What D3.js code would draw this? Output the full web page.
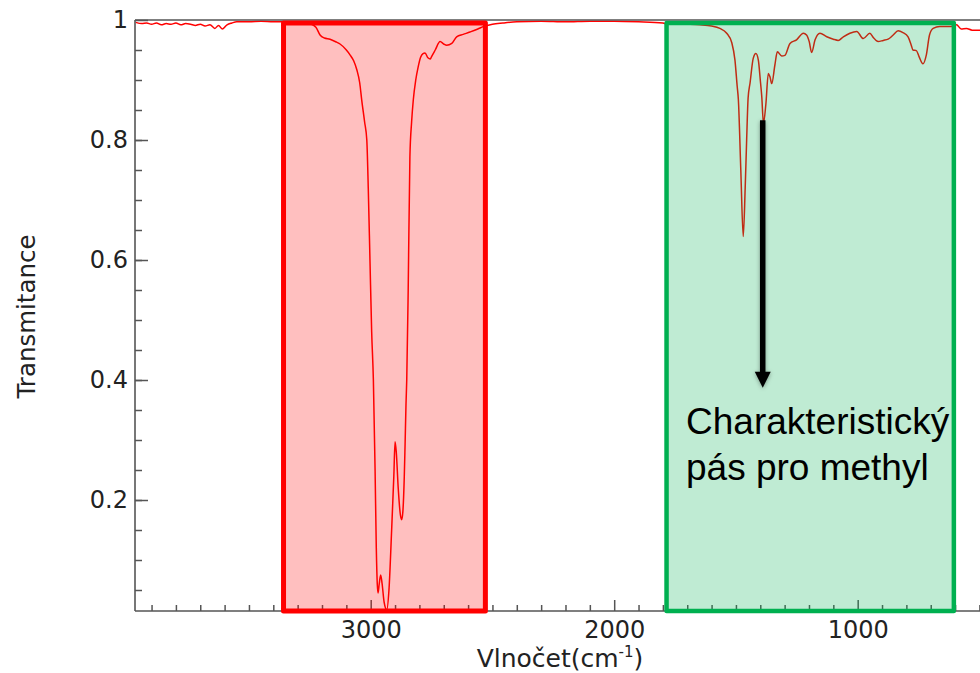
<!DOCTYPE html>
<html>
<head>
<meta charset="utf-8">
<script src="https://cdn.jsdelivr.net/npm/d3@7"></script>
<style>
  html, body { margin: 0; padding: 0; background: #fff; }
  svg { display: block; }
</style>
</head>
<body>
<svg id="chart" width="980" height="673"></svg>
<script>
// IR spectrum: wavenumber (cm^-1) and transmittance
const wavenumber = [
  3965, 3940, 3920, 3900, 3880, 3860, 3840, 3820, 3800, 3780, 3760, 3740, 3720, 3700,
  3680, 3660, 3640, 3625, 3610, 3590, 3570, 3550, 3500, 3450, 3400, 3350, 3300, 3260,
  3249, 3225, 3208, 3190, 3167, 3140, 3126, 3100, 3085, 3070, 3057, 3045, 3037, 3025,
  3016, 3010, 3003, 2996, 2989, 2982, 2977, 2973, 2970, 2965, 2959, 2953, 2945, 2934,
  2925, 2914, 2905, 2900, 2895, 2887, 2878, 2873, 2868, 2862, 2859, 2855, 2852, 2846,
  2839, 2832, 2825, 2815, 2805, 2795, 2785, 2777, 2765, 2755, 2750, 2735, 2715, 2700,
  2688, 2667, 2647, 2620, 2592, 2560, 2538, 2500, 2457, 2400, 2300, 2200, 2100, 2000,
  1900, 1800, 1791, 1700, 1648, 1600, 1566, 1538, 1517, 1504, 1495, 1490, 1480, 1470,
  1462, 1456, 1450, 1442, 1429, 1418, 1408, 1400, 1394, 1387, 1377, 1367, 1360, 1353,
  1340, 1330, 1312, 1299, 1278, 1251, 1223, 1210, 1199, 1189, 1175, 1155, 1127, 1100,
  1080, 1059, 1032, 1004, 977, 950, 936, 916, 895, 875, 854, 834, 814, 793, 780, 773,
  759, 748, 732, 718, 705, 690, 663, 621, 594, 575, 553, 530, 499, 470
];
const transmittance = [
  0.996, 0.994, 0.995, 0.993, 0.995, 0.992, 0.994, 0.993, 0.995, 0.992, 0.994, 0.993, 0.991, 0.993,
  0.990, 0.992, 0.986, 0.991, 0.985, 0.992, 0.995, 0.997, 0.997, 0.998, 0.997, 0.997, 0.996, 0.995,
  0.994, 0.988, 0.975, 0.970, 0.968, 0.963, 0.960, 0.950, 0.942, 0.932, 0.917, 0.895, 0.867, 0.830,
  0.800, 0.720, 0.600, 0.480, 0.400, 0.250, 0.120, 0.060, 0.045, 0.060, 0.075, 0.060, 0.030, 0.017,
  0.050, 0.150, 0.240, 0.297, 0.280, 0.220, 0.175, 0.167, 0.180, 0.240, 0.289, 0.360, 0.400, 0.550,
  0.772, 0.830, 0.867, 0.900, 0.922, 0.938, 0.944, 0.945, 0.937, 0.935, 0.939, 0.950, 0.964, 0.960,
  0.958, 0.961, 0.972, 0.976, 0.980, 0.985, 0.989, 0.993, 0.995, 0.997, 0.998, 0.997, 0.998, 0.998,
  0.997, 0.995, 0.994, 0.993, 0.992, 0.990, 0.986, 0.978, 0.962, 0.933, 0.890, 0.867, 0.750, 0.639,
  0.720, 0.800, 0.870, 0.895, 0.936, 0.944, 0.933, 0.900, 0.873, 0.828, 0.860, 0.911, 0.905, 0.894,
  0.925, 0.947, 0.940, 0.941, 0.961, 0.967, 0.978, 0.975, 0.964, 0.946, 0.967, 0.978, 0.972, 0.968,
  0.966, 0.972, 0.978, 0.981, 0.969, 0.978, 0.971, 0.964, 0.966, 0.968, 0.975, 0.982, 0.979, 0.972, 0.958, 0.950,
  0.949, 0.939, 0.927, 0.942, 0.975, 0.986, 0.989, 0.989, 0.992, 0.985, 0.986, 0.983, 0.983, 0.985
];

// Axis ticks
const xMajorTicks = [3000, 2000, 1000];
const xTickLabels = ["3000", "2000", "1000"];
const yMajorTicks = [0.2, 0.4, 0.6, 0.8, 1];
const yTickLabels = ["0.2", "0.4", "0.6", "0.8", "1"];

// Highlighted bands (cm^-1)
const bandNames = ["C-H stretch", "fingerprint"];
const bandFrom = [3358, 1785];
const bandTo = [2529, 605];

// Annotation
const arrowWavenumber = 1390;
const arrowFrom = 0.833;
const arrowTo = 0.387;
const noteLines = ["Charakteristický", "pás pro methyl"];

const W = 980, H = 673;
const svg = d3.select("#chart");

const x = d3.scaleLinear().domain([3968, 450]).range([135, 991.6]);
const y = d3.scaleLinear().domain([0.015, 1]).range([611, 20]);

const axisColor = "#555";
const fontAxis = "'DejaVu Sans', sans-serif";

// spectrum trace
const pts = wavenumber.map((w, i) => [w, transmittance[i]]);
const line = d3.line()
  .x(d => x(d[0]))
  .y(d => y(d[1]))
  .curve(d3.curveMonotoneX);

const defs = svg.append("defs");
defs.append("clipPath").attr("id", "plotClip")
  .append("rect").attr("x", 135).attr("y", 0).attr("width", W - 135).attr("height", 612);

svg.append("path")
  .datum(pts)
  .attr("clip-path", "url(#plotClip)")
  .attr("fill", "none")
  .attr("stroke", "#ff0000")
  .attr("stroke-width", 1.5)
  .attr("stroke-linejoin", "round")
  .attr("d", line);

// axes frame: left, bottom, top
const frame = svg.append("g").attr("stroke", axisColor).attr("stroke-width", 1.6);
frame.append("line").attr("x1", 135).attr("x2", 135).attr("y1", y(1)).attr("y2", y.range()[0]);
frame.append("line").attr("x1", 135).attr("x2", W).attr("y1", y.range()[0]).attr("y2", y.range()[0]);
frame.append("line").attr("x1", 135).attr("x2", W).attr("y1", y(1)).attr("y2", y(1));

// y ticks (pointing inward)
const yMinor = d3.range(1, 20).map(i => i * 0.05);
const yAxisMinor = d3.axisRight(y).tickValues(yMinor).tickSize(7).tickFormat("");
const yAxisMajor = d3.axisRight(y).tickValues(yMajorTicks).tickSize(13)
  .tickFormat((d, i) => yTickLabels[i]);

const gyMin = svg.append("g").attr("transform", "translate(135,0)").call(yAxisMinor);
const gyMaj = svg.append("g").attr("transform", "translate(135,0)").call(yAxisMajor);
[gyMin, gyMaj].forEach(g => {
  g.select(".domain").remove();
  g.selectAll(".tick line").attr("stroke", axisColor).attr("stroke-width", 1.5);
});
gyMaj.selectAll(".tick text")
  .attr("x", -7)
  .attr("text-anchor", "end")
  .attr("font-family", fontAxis)
  .attr("font-size", 24)
  .attr("fill", "#222");

// x ticks (pointing inward)
const xMinor = d3.range(5, 40).map(i => i * 100).filter(v => !xMajorTicks.includes(v));
const xAxisMinor = d3.axisTop(x).tickValues(xMinor).tickSize(6).tickFormat("");
const xAxisMajor = d3.axisTop(x).tickValues(xMajorTicks).tickSize(11)
  .tickFormat((d, i) => xTickLabels[i]);
const gxMin = svg.append("g").attr("transform", `translate(0,${y.range()[0]})`).call(xAxisMinor);
const gxMaj = svg.append("g").attr("transform", `translate(0,${y.range()[0]})`).call(xAxisMajor);
[gxMin, gxMaj].forEach(g => {
  g.select(".domain").remove();
  g.selectAll(".tick line").attr("stroke", axisColor).attr("stroke-width", 1.5);
});
gxMaj.selectAll(".tick text")
  .attr("y", 27)
  .attr("dy", 0)
  .attr("font-family", fontAxis)
  .attr("font-size", 24)
  .attr("fill", "#222");

// axis titles
svg.append("text")
  .attr("transform", `translate(35,${(y(1) + y.range()[0]) / 2 + 1}) rotate(-90)`)
  .attr("text-anchor", "middle")
  .attr("font-family", fontAxis)
  .attr("font-size", 24.5)
  .attr("fill", "#222")
  .text("Transmitance");

const xt = svg.append("text")
  .attr("x", 560)
  .attr("y", 667)
  .attr("text-anchor", "middle")
  .attr("font-family", fontAxis)
  .attr("font-size", 25)
  .attr("fill", "#222");
xt.append("tspan").text("Vlnočet(cm");
xt.append("tspan").attr("dy", -10).attr("font-size", 15).text("-1");
xt.append("tspan").attr("dy", 10).text(")");

// highlighted bands
const bandColor = ["#ff0000", "#00b050"];
const bandWidth = [5, 4.5];
bandNames.forEach((name, i) => {
  svg.append("rect")
    .attr("class", "band")
    .attr("data-name", name)
    .attr("x", x(bandFrom[i]))
    .attr("y", y(0.995))
    .attr("width", x(bandTo[i]) - x(bandFrom[i]))
    .attr("height", y.range()[0] - y(0.995))
    .attr("fill", bandColor[i])
    .attr("fill-opacity", 0.25)
    .attr("stroke", bandColor[i])
    .attr("stroke-width", bandWidth[i])
    .attr("stroke-linejoin", "round");
});

// annotation arrow
const sh = defs.append("filter").attr("id", "shadow")
  .attr("x", "-50%").attr("y", "-10%").attr("width", "200%").attr("height", "120%");
sh.append("feDropShadow").attr("dx", 0).attr("dy", 1).attr("stdDeviation", 2)
  .attr("flood-color", "#000").attr("flood-opacity", 0.35);

const ax = x(arrowWavenumber);
const aTop = y(arrowFrom), aTip = y(arrowTo);
const arrow = svg.append("g").attr("filter", "url(#shadow)");
arrow.append("line")
  .attr("x1", ax).attr("x2", ax)
  .attr("y1", aTop).attr("y2", aTip - 14)
  .attr("stroke", "#000").attr("stroke-width", 5.5);
arrow.append("path")
  .attr("d", `M${ax - 8},${aTip - 16} L${ax + 8},${aTip - 16} L${ax},${aTip} Z`)
  .attr("fill", "#000");

// annotation text
const note = svg.append("text")
  .attr("font-family", "'Liberation Sans', Arial, sans-serif")
  .attr("font-size", 37)
  .attr("fill", "#000");
note.append("tspan").attr("x", 686).attr("y", 434).text(noteLines[0]);
note.append("tspan").attr("x", 686).attr("y", 480).text(noteLines[1]);
</script>
</body>
</html>
